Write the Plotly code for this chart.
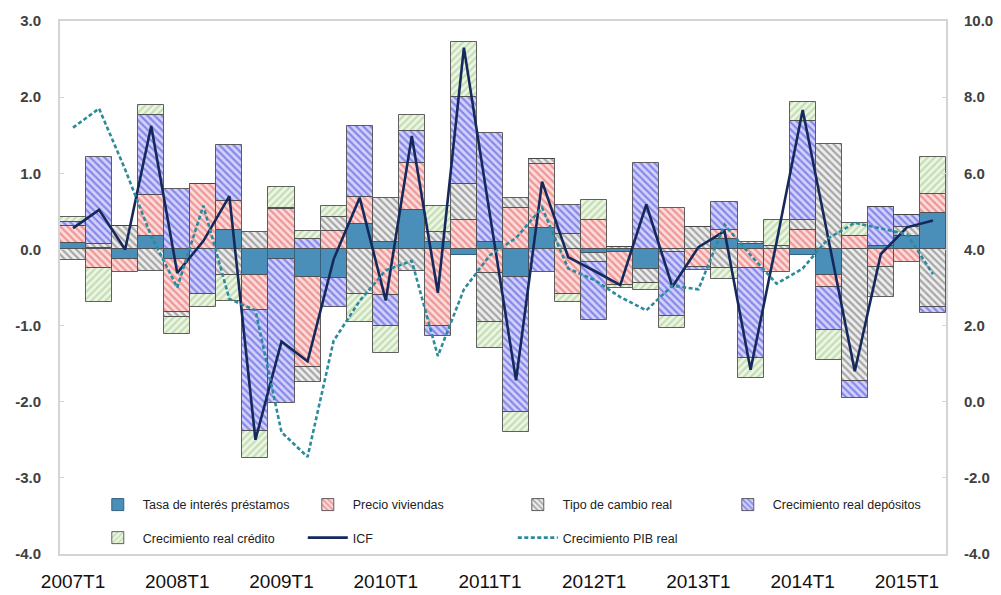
import plotly.graph_objects as go

quarters = [f"{y}T{q}" for y in range(2007, 2016) for q in range(1, 5)][:34]
tick_labels = [f"{y}T1" for y in range(2007, 2016)]
left_ticks = [-4.0, -3.0, -2.0, -1.0, 0.0, 1.0, 2.0, 3.0]
right_ticks = [-4.0, -2.0, 0.0, 2.0, 4.0, 6.0, 8.0, 10.0]

tasa = [0.09, 0.02, -0.13, 0.18, -0.13, 0.01, 0.26, -0.34, -0.12, -0.36, -0.38, 0.34,
        0.10, 0.52, 0.10, -0.07, 0.10, -0.36, 0.28, 0.00, -0.05, -0.03, -0.26, 0.00,
        0.00, 0.14, 0.07, 0.00, -0.07, -0.34, 0.01, 0.04, 0.17, 0.48]
precio = [0.22, -0.25, -0.17, 0.54, -0.69, 0.85, 0.38, -0.45, 0.53, -1.18, 0.24, 0.35,
          -0.60, 0.62, -1.01, 0.39, -0.31, 0.55, 0.84, -0.58, 0.38, -0.44, 0.00, 0.54,
          -0.23, 0.11, -0.25, -0.30, 0.25, -0.15, 0.16, -0.23, -0.17, 0.25]
tipo = [-0.14, 0.05, 0.31, -0.28, -0.07, 0.00, -0.33, 0.23, 0.02, -0.20, 0.19, -0.58,
        0.58, -0.28, 0.13, 0.47, -0.64, 0.12, 0.07, 0.20, -0.12, 0.03, -0.18, -0.04,
        0.30, -0.25, 0.03, 0.04, 0.13, 1.39, -1.73, -0.39, 0.12, -0.75]
depositos = [0.05, 1.14, 0.00, 1.05, 0.79, -0.58, 0.73, -1.60, -1.90, 0.14, -0.37, 0.93,
             -0.41, 0.42, -0.13, 1.14, 1.43, -1.77, -0.29, 0.39, -0.76, 0.00, 1.13, -0.84,
             -0.04, 0.37, -1.18, 0.00, 1.31, -0.57, -0.22, 0.52, 0.16, -0.08]
credito = [0.06, -0.44, 0.00, 0.13, -0.22, -0.18, -0.35, -0.35, 0.27, 0.10, 0.14, -0.37,
           -0.35, 0.21, 0.34, 0.73, -0.35, -0.27, 0.00, -0.11, 0.27, -0.03, -0.09, -0.15,
           0.00, -0.14, -0.26, 0.34, 0.24, -0.39, 0.18, 0.00, 0.00, 0.48]
icf = [0.28, 0.52, 0.00, 1.62, -0.31, 0.11, 0.70, -2.50, -1.21, -1.47, -0.13, 0.68,
       -0.67, 1.49, -0.57, 2.65, 0.45, -1.72, 0.89, -0.10, -0.28, -0.47, 0.59, -0.49,
       0.03, 0.24, -1.58, 0.10, 1.83, 0.12, -1.60, -0.06, 0.29, 0.38]
pib = [7.2, 7.7, 6.1, 4.35, 3.0, 5.15, 2.7, 2.4, -0.8, -1.45, 1.6, 2.65,
       3.45, 3.7, 1.2, 2.95, 3.85, 4.3, 5.1, 3.5, 3.2, 2.75, 2.4, 3.05,
       2.95, 4.65, 3.85, 3.1, 3.5, 4.3, 4.7, 4.55, 4.4, 3.35]

FONT = "Liberation Sans"
border = dict(color="rgba(70,70,70,0.85)", width=1)

fig = go.Figure()
fig.add_trace(go.Bar(x=quarters, y=tasa, name="Tasa de interés préstamos",
                     marker=dict(color="#4A8FBA", line=dict(color="#35607E", width=1)),
                     legend="legend"))
fig.add_trace(go.Bar(x=quarters, y=precio, name="Precio viviendas",
                     marker=dict(color="#FBDCDC", line=border,
                                 pattern=dict(shape="\\", fgcolor="#E0504E", bgcolor="#FBDCDC",
                                              size=5, solidity=0.45)),
                     legend="legend"))
fig.add_trace(go.Bar(x=quarters, y=tipo, name="Tipo de cambio real",
                     marker=dict(color="#ECECEC", line=border,
                                 pattern=dict(shape="\\", fgcolor="#5E5E5E", bgcolor="#EEEEEE",
                                              size=5, solidity=0.45)),
                     legend="legend"))
fig.add_trace(go.Bar(x=quarters, y=depositos, name="Crecimiento real depósitos",
                     marker=dict(color="#D0D0FA", line=border,
                                 pattern=dict(shape="\\", fgcolor="#3C3CDC", bgcolor="#D2D2FA",
                                              size=5, solidity=0.45)),
                     legend="legend"))
fig.add_trace(go.Bar(x=quarters, y=credito, name="Crecimiento real crédito",
                     marker=dict(color="#EAF5E0", line=border,
                                 pattern=dict(shape="/", fgcolor="#9CC585", bgcolor="#EDF6E4",
                                              size=5, solidity=0.45)),
                     legend="legend2"))
fig.add_trace(go.Scatter(x=quarters, y=icf, name="ICF", mode="lines",
                         line=dict(color="#15295A", width=2.6), legend="legend2"))
fig.add_trace(go.Scatter(x=quarters, y=pib, name="Crecimiento PIB real", mode="lines",
                         yaxis="y2", line=dict(color="#2B8A9C", width=2.6, dash="4px,2.5px"),
                         legend="legend2"))

frame = "#D4D4D4"
leg_common = dict(orientation="h", xanchor="left", yanchor="middle",
                  font=dict(size=12.5, family=FONT, color="#222222"),
                  bgcolor="rgba(0,0,0,0)", entrywidth=155, entrywidthmode="pixels",
                  itemwidth=40, traceorder="normal")
tick_font = dict(size=15, family=FONT, color="#404040", weight="bold")

fig.update_layout(
    width=993, height=587,
    margin=dict(l=52, r=55, t=13, b=41),
    paper_bgcolor="white", plot_bgcolor="white",
    barmode="relative", bargap=0,
    font=dict(family=FONT),
    showlegend=True,
    legend=dict(x=0.037, y=0.092, **leg_common),
    legend2=dict(x=0.037, y=0.030, **leg_common),
    xaxis=dict(type="category", tickmode="array", tickvals=tick_labels, ticktext=tick_labels,
               tickfont=dict(size=19, family=FONT, color="#111111"),
               showline=True, linecolor=frame, linewidth=2, mirror=True, automargin=False,
               ticks="", showgrid=False, ticklabelstandoff=9),
    yaxis=dict(range=[-4, 3], tickmode="array", tickvals=left_ticks,
               ticktext=[f"{v:.1f}" for v in left_ticks], automargin=False,
               tickfont=tick_font,
               showline=True, linecolor=frame, linewidth=2, mirror=True,
               ticks="inside", ticklen=4, tickcolor=frame, showgrid=False,
               zeroline=False, ticklabelstandoff=14),
    yaxis2=dict(range=[-4, 10], tickmode="array", tickvals=right_ticks,
                ticktext=[f"{v:.1f}" for v in right_ticks], overlaying="y", side="right",
                automargin=False, tickfont=tick_font,
                ticks="inside", ticklen=4, tickcolor=frame, showgrid=False,
                zeroline=False, showline=False, ticklabelstandoff=17),
)

fig.write_html("out.html")
